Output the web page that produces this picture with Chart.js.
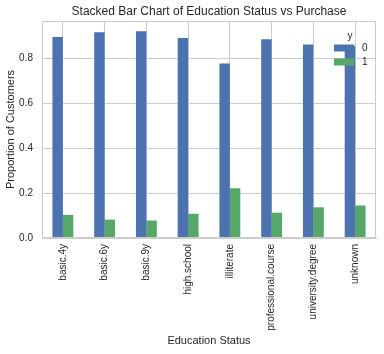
<!DOCTYPE html>
<html>
<head>
<meta charset="utf-8">
<script src="https://cdn.jsdelivr.net/npm/chart.js@4/dist/chart.umd.min.js"></script>
<style>
  html, body { margin: 0; padding: 0; background: #fff; }
  #wrap { width: 384px; height: 354px; }
</style>
</head>
<body>
<div id="wrap"><canvas id="chartEducation" width="384" height="354"></canvas></div>
<script>
const categories = ['basic.4y', 'basic.6y', 'basic.9y', 'high.school', 'illiterate',
  'professional.course', 'university.degree', 'unknown'];
const seriesLabels = ['0', '1'];
const noPurchase = [0.897, 0.918, 0.922, 0.892, 0.778, 0.887, 0.863, 0.855];
const purchase = [0.103, 0.082, 0.078, 0.108, 0.222, 0.113, 0.137, 0.145];
const yTicks = [0.0, 0.2, 0.4, 0.6, 0.8];

const textColor = '#262626';
const gridColor = '#cccccc';
const font = 'Liberation Sans, Arial, sans-serif';

/* frame round the whole plot area, like the seaborn axes */
const frame = {
  id: 'frame',
  afterDatasetsDraw(chart) {
    const { ctx, chartArea: a } = chart;
    ctx.save();
    ctx.strokeStyle = gridColor;
    ctx.lineWidth = 1;
    ctx.strokeRect(a.left + 0.5, a.top + 0.5, a.right - a.left - 1, a.bottom - a.top - 1);
    ctx.restore();
  }
};

/* matplotlib style legend in the upper right corner, no box */
const cornerLegend = {
  id: 'cornerLegend',
  afterDraw(chart) {
    const { ctx, chartArea: a } = chart;
    ctx.save();
    ctx.fillStyle = textColor;
    ctx.font = '10px ' + font;
    ctx.textAlign = 'center';
    ctx.textBaseline = 'middle';
    ctx.fillText('y', a.right - 26, a.top + 15);
    ctx.textAlign = 'left';
    chart.data.datasets.forEach((ds, i) => {
      const y = a.top + 27 + i * 14;
      ctx.fillStyle = ds.backgroundColor;
      ctx.fillRect(a.right - 42, y - 3.5, 20, 7);
      ctx.fillStyle = textColor;
      ctx.fillText(ds.label, a.right - 14, y + 0.5);
    });
    ctx.restore();
  }
};

const canvas = document.getElementById('chartEducation');
new Chart(canvas, {
  type: 'bar',
  data: {
    labels: categories,
    datasets: [
      { label: seriesLabels[0], data: noPurchase, backgroundColor: '#4c72b0',
        categoryPercentage: 0.5, barPercentage: 1.0 },
      { label: seriesLabels[1], data: purchase, backgroundColor: '#55a868',
        categoryPercentage: 0.5, barPercentage: 1.0 }
    ]
  },
  options: {
    responsive: false,
    animation: false,
    layout: { padding: { left: 0, right: 8, top: 0, bottom: 0 } },
    plugins: {
      legend: { display: false },
      tooltip: { enabled: false },
      title: {
        display: true,
        fullSize: false,
        text: 'Stacked Bar Chart of Education Status vs Purchase',
        color: textColor,
        font: { family: font, size: 12, weight: 'normal' },
        padding: { top: 4, bottom: 2.6 }
      }
    },
    scales: {
      x: {
        grid: { color: gridColor, offset: false, drawTicks: false },
        border: { color: gridColor },
        ticks: {
          color: textColor, font: { family: font, size: 10 },
          minRotation: 90, maxRotation: 90, padding: 6, autoSkip: false
        },
        title: {
          display: true, text: 'Education Status', color: textColor,
          font: { family: font, size: 11 }, padding: { top: 0, bottom: 6 }
        },
        afterFit(scale) { scale.height = 116; }
      },
      y: {
        min: 0,
        max: Math.max(...noPurchase, ...purchase) * 1.05,
        grid: { color: gridColor, drawTicks: false },
        border: { color: gridColor },
        ticks: {
          color: textColor, font: { family: font, size: 10 }, padding: 9,
          callback: v => v.toFixed(1)
        },
        afterBuildTicks(scale) { scale.ticks = yTicks.map(v => ({ value: v })); },
        title: {
          display: true, text: 'Proportion of Customers', color: textColor,
          font: { family: font, size: 11 }, padding: { top: 4.5, bottom: 0 }
        },
        afterFit(scale) { scale.width = 42; }
      }
    }
  },
  plugins: [frame, cornerLegend]
});
</script>
</body>
</html>
